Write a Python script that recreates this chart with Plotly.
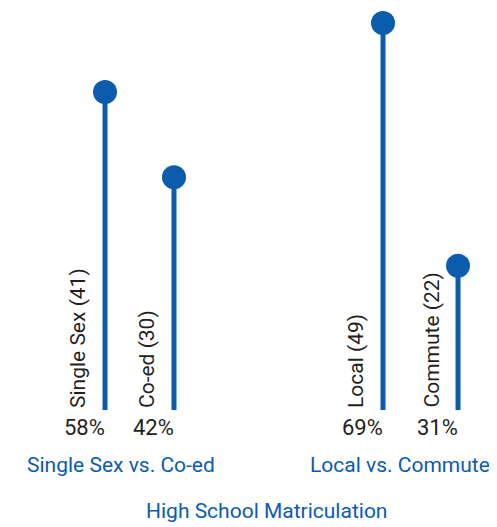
import plotly.graph_objects as go

# data
groups = ["Single Sex vs. Co-ed", "Local vs. Commute"]
labels = [["Single Sex (41)", "Co-ed (30)"], ["Local (49)", "Commute (22)"]]
percents = [["58%", "42%"], ["69%", "31%"]]
stem_heights = [[56.7, 41.5], [69.0, 25.7]]
title = "High School Matriculation"

BLUE = "#0b5cad"
INK = "#231f20"
FONT = "Roboto, Liberation Sans, sans-serif"

fig = go.Figure()

# page body has an 8px margin, so everything sits 8px down/right of the paper
x_domains = [[0.1258, 0.4034], [0.6791, 0.9809]]
group_label_pos = [(0.2274, "center"), (0.9738, "right")]

for g in range(len(groups)):
    xa = "x" if g == 0 else "x2"
    ax_name = "xaxis" if g == 0 else "xaxis2"
    cats = labels[g]
    # stems
    for c, h in zip(cats, stem_heights[g]):
        fig.add_trace(go.Scatter(
            x=[c, c], y=[0, h], mode="lines",
            line=dict(color=BLUE, width=5),
            xaxis=xa, yaxis="y", hoverinfo="skip", showlegend=False
        ))
    # dots
    fig.add_trace(go.Scatter(
        x=cats, y=stem_heights[g], mode="markers",
        marker=dict(color=BLUE, size=24),
        xaxis=xa, yaxis="y", showlegend=False
    ))
    # rotated category labels and percentages
    for c, p in zip(cats, percents[g]):
        fig.add_annotation(
            x=c, y=0, xref=xa, yref="y", text=c, textangle=-90,
            xanchor="center", yanchor="bottom", xshift=-27, yshift=0,
            showarrow=False, font=dict(family=FONT, size=21, color=INK)
        )
        fig.add_annotation(
            x=c, y=0, xref=xa, yref="y", text=p,
            xanchor="right", yanchor="top", xshift=2, yshift=-3,
            showarrow=False, font=dict(family=FONT, size=22, color=INK)
        )
    gx, ganchor = group_label_pos[g]
    fig.add_annotation(
        x=gx, y=0.1328, xref="paper", yref="paper",
        text=groups[g], xanchor=ganchor, yanchor="middle",
        showarrow=False, font=dict(family=FONT, size=21, color=BLUE)
    )
    fig.layout[ax_name] = dict(
        domain=x_domains[g], type="category", range=[-0.5, 1.5],
        visible=False, anchor="y"
    )

fig.add_annotation(
    x=0.5211, y=0.0455, xref="paper", yref="paper", text=title,
    xanchor="center", yanchor="middle", showarrow=False,
    font=dict(family=FONT, size=21, color=BLUE)
)

fig.update_layout(
    width=497, height=527,
    margin=dict(l=0, r=0, t=0, b=0),
    paper_bgcolor="white", plot_bgcolor="white",
    yaxis=dict(domain=[0.2372, 1], range=[0, 71.67], visible=False),
    showlegend=False,
)

fig.write_html("out.html")
